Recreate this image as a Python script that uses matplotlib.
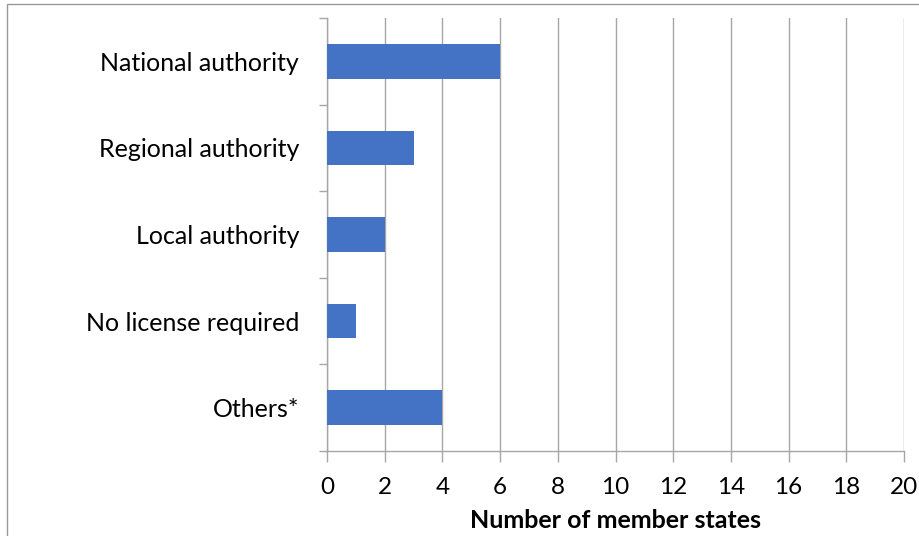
import matplotlib.pyplot as plt
from matplotlib.patches import Rectangle
import numpy as np

plt.rcParams['font.family'] = ['Lato', 'DejaVu Sans']

categories = ["National authority", "Regional authority", "Local authority",
              "No license required", "Others*"]
counts = [6, 3, 2, 1, 4]
x_ticks = list(range(0, 21, 2))

W, H = 919, 536
fig = plt.figure(figsize=(W / 100, H / 100), dpi=100)
ax = fig.add_axes([327 / W, 1 - 451 / H, (904 - 327) / W, (451 - 18) / H])

grid_col = "#a6a6a6"
ypos = np.arange(len(categories))
ax.barh(ypos, counts, height=0.4, color="#4472C4", zorder=3)
ax.set_ylim(len(categories) - 0.5, -0.5)
ax.set_xlim(0, 20)

ax.set_xticks(x_ticks)
ax.set_xticklabels([str(t) for t in x_ticks], fontsize=17.5)
ax.set_yticks(ypos)
ax.set_yticklabels(categories, fontsize=18)
ax.set_yticks(np.arange(len(categories) + 1) - 0.5, minor=True)
ax.tick_params(axis="y", which="major", length=0, pad=20)
ax.tick_params(axis="y", which="minor", length=6, color=grid_col, width=1)
ax.tick_params(axis="x", length=8, color=grid_col, width=1, pad=11)

ax.grid(axis="x", color=grid_col, linewidth=1, zorder=0)
for side in ["top", "right"]:
    ax.spines[side].set_visible(False)
for side in ["left", "bottom"]:
    ax.spines[side].set_color(grid_col)
    ax.spines[side].set_linewidth(1)

ax.set_xlabel("Number of member states", fontsize=18, fontweight="bold", labelpad=8)

# chart area frame
fig.patches.append(Rectangle((7 / W, -0.5), 2, 1.5 - 4 / H, transform=fig.transFigure,
                             fill=False, edgecolor="#999999", linewidth=1))

fig.savefig("out.png", dpi=100)
